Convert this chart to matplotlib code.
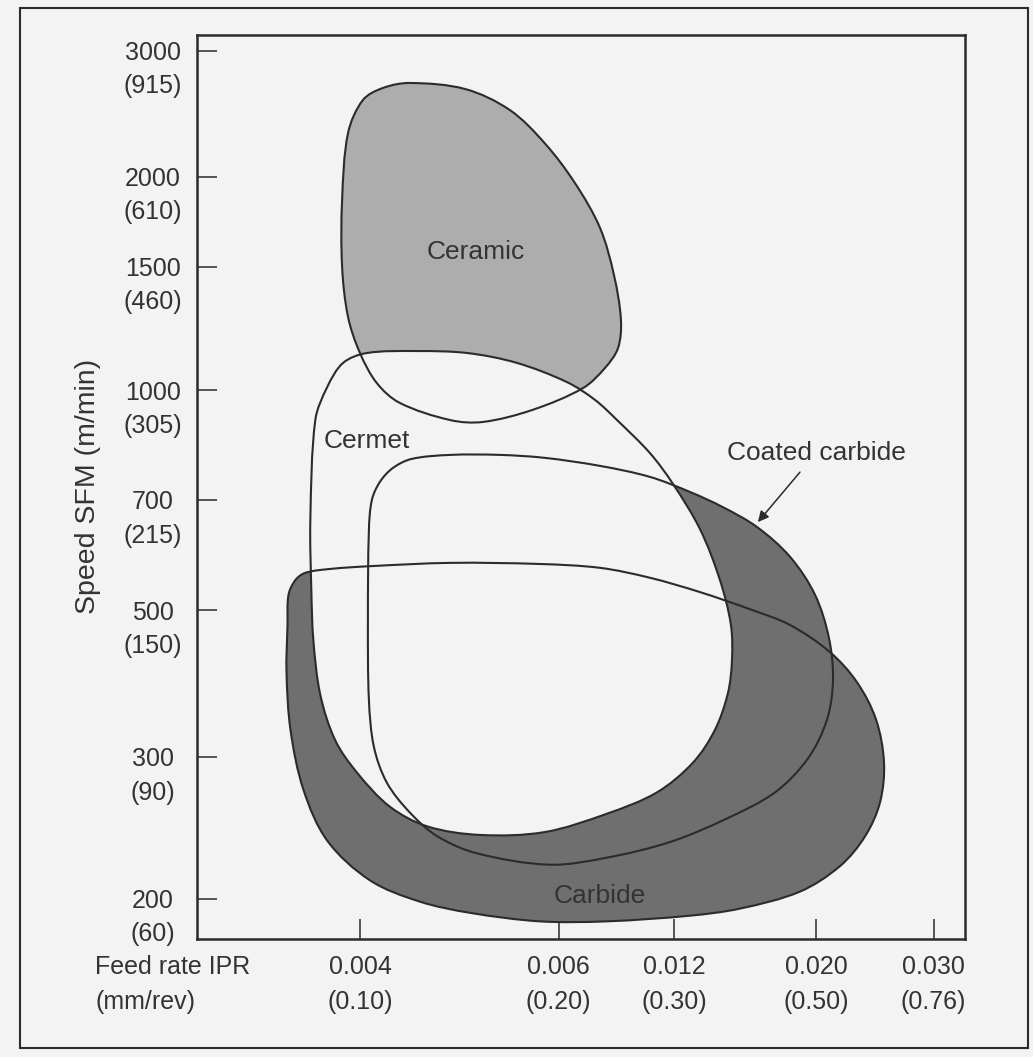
import numpy as np
import matplotlib
matplotlib.use("Agg")
import matplotlib.pyplot as plt
from matplotlib.path import Path
from matplotlib.patches import PathPatch, Rectangle
from matplotlib.ticker import FixedLocator, NullLocator, NullFormatter

plt.rcParams['font.family'] = ['Liberation Sans', 'DejaVu Sans']

# ---- axis ticks -------------------------------------------------------
FEED_IPR = [0.004, 0.006, 0.012, 0.020, 0.030]
FEED_MM = ["(0.10)", "(0.20)", "(0.30)", "(0.50)", "(0.76)"]
SPEED_SFM = [3000, 2000, 1500, 1000, 700, 500, 300, 200]
SPEED_MMIN = ["(915)", "(610)", "(460)", "(305)", "(215)", "(150)", "(90)", "(60)"]

FEED_LIM = (0.002355, 0.032667)
SFM_LIM = (171.3, 3124.6)

# ---- application regions: outline points (feed IPR, speed SFM) -------
CERAMIC_FEED = [0.00450, 0.00506, 0.00551, 0.00586, 0.00685, 0.00815, 0.00887,
                0.00923, 0.00908, 0.00840, 0.00727, 0.00574, 0.00524, 0.00491,
                0.00440, 0.00417, 0.00400, 0.00388, 0.00382, 0.00382, 0.00388,
                0.00403, 0.00423]
CERAMIC_SFM = [2744, 2696, 2529, 2267, 1965, 1715, 1466, 1284, 1170, 1089, 1008,
               946, 913, 918, 965, 1028, 1150, 1296, 1499, 1871, 2347, 2609, 2704]

CERMET_FEED = [0.00350, 0.00355, 0.00367, 0.00383, 0.00407, 0.00457, 0.00508,
               0.00558, 0.00644, 0.00789, 0.00903, 0.01073, 0.01192, 0.01344,
               0.01456, 0.01518, 0.01524, 0.01501, 0.01428, 0.01304, 0.01109,
               0.00851, 0.00586, 0.00521, 0.00468, 0.00430, 0.00397, 0.00375,
               0.00360, 0.00353, 0.00351]
CERMET_SFM = [664, 918, 1012, 1110, 1150, 1158, 1150, 1110, 1032, 973, 918, 828,
              744, 647, 555, 480, 432, 387, 337, 296, 275, 260, 247, 245, 251,
              265, 289, 323, 385, 460, 537]

COATED_FEED = [0.00409, 0.00412, 0.00420, 0.00433, 0.00452, 0.00491, 0.00541,
               0.00586, 0.00815, 0.01073, 0.01287, 0.01473, 0.01665, 0.01851,
               0.01992, 0.02107, 0.02141, 0.02090, 0.01952, 0.01766, 0.01485,
               0.01177, 0.00851, 0.00591, 0.00518, 0.00478, 0.00450, 0.00427,
               0.00414, 0.00409, 0.00408]
COATED_SFM = [646, 700, 749, 787, 812, 823, 823, 815, 793, 763, 722, 687, 651,
              597, 528, 462, 405, 351, 299, 275, 256, 240, 229, 224, 232, 244,
              261, 282, 314, 378, 487]

CARBIDE_FEED = [0.00327, 0.00328, 0.00335, 0.00345, 0.00370, 0.00410, 0.00491,
                0.00581, 0.00815, 0.01073, 0.01344, 0.01625, 0.01851, 0.02115,
                0.02346, 0.02509, 0.02577, 0.02543, 0.02415, 0.02201, 0.01907,
                0.01569, 0.01287, 0.00851, 0.00581, 0.00511, 0.00460, 0.00410,
                0.00367, 0.00343, 0.00330, 0.00326]
CARBIDE_SFM = [480, 528, 555, 568, 575, 580, 586, 584, 577, 559, 533, 502, 480,
               443, 402, 351, 296, 268, 244, 223, 205, 193, 188, 184, 184, 190,
               198, 213, 241, 277, 337, 415]

# ---- colours ------------------------------------------------------------
PAPER = '#f3f3f3'
INK = '#2b2b2b'
TEXT = '#333333'
LIGHT_FILL = '#adadad'
DARK_FILL = '#6f6f6f'


def spaced_scale(knots, frac):
    """Piecewise-linear axis spacing through the printed tick positions."""
    k = np.asarray(knots, float)
    f = np.asarray(frac, float)
    s_lo = (f[1] - f[0]) / (k[1] - k[0])
    s_hi = (f[-1] - f[-2]) / (k[-1] - k[-2])

    def fwd(v):
        v = np.asarray(v, float)
        out = np.interp(v, k, f)
        out = np.where(v < k[0], f[0] + (v - k[0]) * s_lo, out)
        out = np.where(v > k[-1], f[-1] + (v - k[-1]) * s_hi, out)
        return out

    def inv(u):
        u = np.asarray(u, float)
        out = np.interp(u, f, k)
        out = np.where(u < f[0], k[0] + (u - f[0]) / s_lo, out)
        out = np.where(u > f[-1], k[-1] + (u - f[-1]) / s_hi, out)
        return out

    return fwd, inv


feed_scale = spaced_scale([FEED_LIM[0], 0.004, 0.006, 0.012, 0.020, 0.030, FEED_LIM[1]],
                          [0.0, 0.2126, 0.4711, 0.6221, 0.8070, 0.9594, 1.0])
sfm_scale = spaced_scale([SFM_LIM[0], 200, 300, 500, 700, 1000, 1500, 2000, 3000, SFM_LIM[1]],
                         [0.0, 0.0449, 0.2016, 0.3638, 0.4858, 0.6074, 0.7438, 0.8433, 0.9826, 1.0])

fig = plt.figure(figsize=(10.33, 10.57), dpi=100, facecolor=PAPER)
ax = fig.add_axes([0.19041, 0.11135, 0.74347, 0.85554], facecolor=PAPER)
ax.set_xscale('function', functions=feed_scale)
ax.set_yscale('function', functions=sfm_scale)
ax.set_xlim(*FEED_LIM)
ax.set_ylim(*SFM_LIM)

ax.xaxis.set_major_locator(FixedLocator(FEED_IPR))
ax.yaxis.set_major_locator(FixedLocator(SPEED_SFM))
ax.xaxis.set_minor_locator(NullLocator())
ax.yaxis.set_minor_locator(NullLocator())
ax.xaxis.set_major_formatter(NullFormatter())
ax.yaxis.set_major_formatter(NullFormatter())
ax.tick_params(axis='both', which='major', direction='in', length=14.5,
               width=1.1, color=INK, top=False, right=False)
for sp in ax.spines.values():
    sp.set_linewidth(1.8)
    sp.set_color(INK)


def smooth_outline(feed, sfm):
    """Closed smooth outline through the points (chord-length tangents)."""
    pts = np.column_stack([feed, sfm])
    d = ax.transData.transform(pts)          # display pixels, isotropic
    n = len(d)
    seg = np.roll(d, -1, axis=0) - d          # P[i+1] - P[i]
    L = np.hypot(seg[:, 0], seg[:, 1])        # chord lengths
    L_prev = np.roll(L, 1)
    tang = (np.roll(d, -1, axis=0) - np.roll(d, 1, axis=0)) / (L + L_prev)[:, None]
    verts = [d[0]]
    codes = [Path.MOVETO]
    for i in range(n):
        j = (i + 1) % n
        verts += [d[i] + tang[i] * L[i] / 3.0, d[j] - tang[j] * L[i] / 3.0, d[j]]
        codes += [Path.CURVE4] * 3
    verts.append(d[0])
    codes.append(Path.CLOSEPOLY)
    verts = ax.transAxes.inverted().transform(np.asarray(verts))
    return Path(verts, codes)


regions = {
    'ceramic': (CERAMIC_FEED, CERAMIC_SFM, LIGHT_FILL, 1),
    'carbide': (CARBIDE_FEED, CARBIDE_SFM, DARK_FILL, 2),
    'coated': (COATED_FEED, COATED_SFM, DARK_FILL, 2),
    'cermet': (CERMET_FEED, CERMET_SFM, PAPER, 3),
}
for feed, sfm, fill, z in regions.values():
    path = smooth_outline(feed, sfm)
    ax.add_patch(PathPatch(path, transform=ax.transAxes, facecolor=fill,
                           edgecolor='none', zorder=z))
for feed, sfm, fill, z in regions.values():
    path = smooth_outline(feed, sfm)
    ax.add_patch(PathPatch(path, transform=ax.transAxes, facecolor='none',
                           edgecolor=INK, linewidth=1.5, zorder=5))

# region names
label_kw = dict(fontsize=19, color=TEXT, ha='center', va='center', zorder=6)
ax.text(0.00517, 1582, 'Ceramic', **label_kw)
ax.text(0.00407, 861, 'Cermet', **label_kw)
ax.text(0.0200, 828, 'Coated carbide', **label_kw)
ax.text(0.00815, 202, 'Carbide', **label_kw)
ax.annotate('', xy=(0.0167, 660), xytext=(0.01907, 776),
            arrowprops=dict(arrowstyle='-|>', color=INK, lw=1.1,
                            mutation_scale=16, shrinkA=0, shrinkB=0), zorder=6)

# tick labels: SFM over m/min, IPR over mm/rev
tick_kw = dict(fontsize=18, color=TEXT, ha='center', va='center_baseline',
               textcoords='offset points', annotation_clip=False)
for v, m in zip(SPEED_SFM, SPEED_MMIN):
    ax.annotate(f'{v}', xy=(0, v), xycoords=('axes fraction', 'data'),
                xytext=(-31.5, 0), **tick_kw)
    ax.annotate(m, xy=(0, v), xycoords=('axes fraction', 'data'),
                xytext=(-31.5, -23.8), **tick_kw)
for v, m in zip(FEED_IPR, FEED_MM):
    ax.annotate(f'{v:.3f}', xy=(v, 0), xycoords=('data', 'axes fraction'),
                xytext=(0, -17.8), **tick_kw)
    ax.annotate(m, xy=(v, 0), xycoords=('data', 'axes fraction'),
                xytext=(0, -43.0), **tick_kw)

left_kw = dict(tick_kw, ha='left')
ax.annotate('Feed rate IPR', xy=(0, 0), xycoords='axes fraction',
            xytext=(-73.2, -17.8), **left_kw)
ax.annotate('(mm/rev)', xy=(0, 0), xycoords='axes fraction',
            xytext=(-73.2, -43.0), **left_kw)

fig.text(88 / 1033, 1 - 486 / 1057, 'Speed SFM (m/min)', rotation=90,
         fontsize=20.5, color=TEXT, ha='center', va='center')

# page frame around the figure
fig.add_artist(Rectangle((0.0194, 0.0085), 0.9758, 0.9839,
                         transform=fig.transFigure, fill=False,
                         linewidth=1.5, edgecolor=INK))

fig.savefig('out.png', dpi=100, facecolor=PAPER)
